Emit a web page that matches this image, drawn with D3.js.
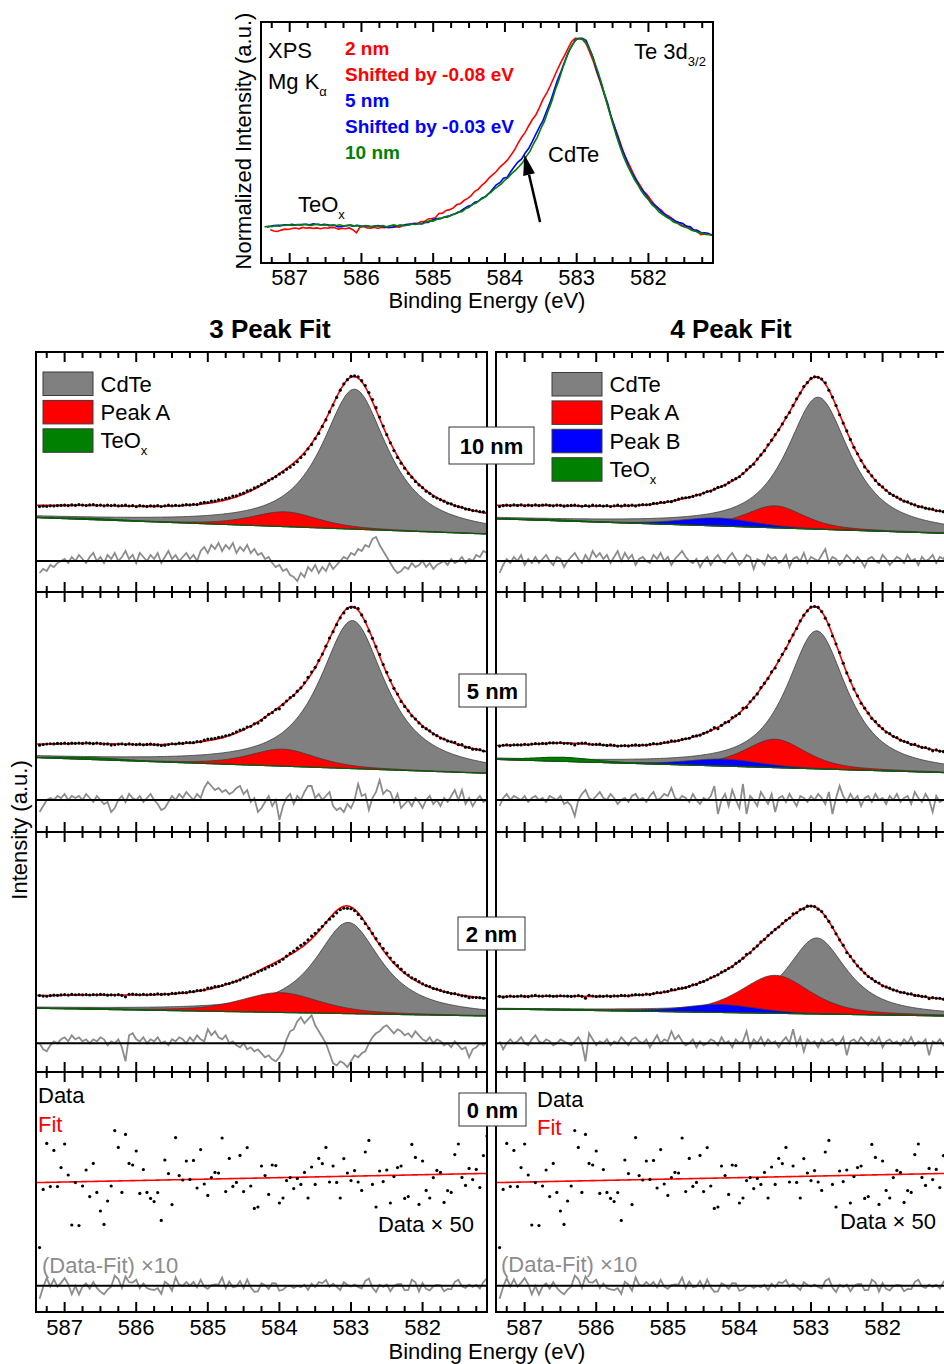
<!DOCTYPE html>
<html>
<head>
<meta charset="utf-8">
<script src="https://cdn.jsdelivr.net/npm/d3@7/dist/d3.min.js"></script>
<style>
html,body{margin:0;padding:0;background:#fff;}
svg{display:block;}
</style>
</head>
<body>
<svg id="chart" width="944" height="1364"></svg>
<script>
// ================= DATA =================
const energyStart = 587.35;          // first data point (eV)
const energyStep = 0.05;             // eV between data points
const energyDomain = [587.4, 581.1]; // binding-energy axis
const tickLabels = [587, 586, 585, 584, 583, 582];
const thicknessLabels = ["10 nm", "5 nm", "2 nm", "0 nm"];
const legend3 = ["CdTe", "Peak A", "TeOx"];
const legend4 = ["CdTe", "Peak A", "Peak B", "TeOx"];

// fit components: [centre eV, height, FWHM eV, Lorentzian fraction]; rows = 10 nm, 5 nm, 2 nm
const bg3 = [[37.2, 29.0], [37.2, 29.35], [31.85, 28.0]];
const offset3 = [5.0, 5.5, 5.5];
const cdte3 = [[582.95, 70, 1.1, 0.9], [582.98, 74, 1.1, 0.9], [583.04, 45.6, 1.1, 0.9]];
const peakA3 = [[583.92, 7.4, 1.1, 0.5], [583.95, 8.5, 1.1, 0.5], [583.99, 9.9, 1.3, 0.5]];
const teox3 = [[586.6, 0.6, 1.0, 0.3], [586.6, 0.9, 1.0, 0.3], [586.6, 0.4, 1.0, 0.3]];

const bg4 = [[36.6, 29.3], [36.3, 29.65], [31.5, 28.0]];
const offset4 = [5.8, 5.8, 5.5];
const cdte4 = [[582.9, 66, 1.05, 0.85], [582.92, 69, 1.0, 0.85], [582.92, 38, 1.0, 0.85]];
const peakA4 = [[583.5, 11, 0.95, 0.5], [583.5, 14.2, 1.0, 0.5], [583.5, 19, 1.14, 0.5]];
const peakB4 = [[584.3, 4, 1.2, 0.3], [584.22, 3.5, 1.2, 0.3], [584.27, 4, 1.2, 0.3]];
const teox4 = [[586.6, 0.5, 1.0, 0.3], [586.46, 2.0, 1.0, 0.3], [586.6, 0.4, 1.0, 0.3]];

const residualZero = [15.5, 16.0, 14.35, 13.15];

// (Data - Fit) x 10
const res3_10 = [-6,-4,-5,-2,-3,-1,0,1,-1,2,0,3,1,-1,2,4,0,2,-1,3,1,4,0,2,5,1,3,-1,4,2,0,3,1,4,-1,2,5,1,3,0,2,4,1,3,0,5,7,4,8,6,9,5,8,6,9,4,7,5,8,4,6,3,4,1,2,-1,-3,-2,-5,-4,-7,-8,-10,-6,-8,-3,-5,-2,-6,-3,-5,-1,-4,-2,0,2,1,4,3,6,5,8,7,11,12,8,5,2,-1,-4,-6,-5,-3,-4,-1,-3,-2,0,-3,-1,-4,-2,-1,0,-2,1,-1,0,2,-1,1,0,3,2,5,4];
const res4_10 = [-6,-2,1,-1,2,0,3,-2,1,-1,2,-1,1,3,0,-2,2,1,-3,0,2,4,1,-1,3,0,5,2,4,1,3,-1,2,5,0,4,1,3,-2,1,2,0,-1,3,1,4,0,2,-2,1,3,5,2,0,-1,1,-3,0,2,-2,1,3,0,-1,2,4,1,-2,0,3,2,-4,1,0,-2,3,1,2,-1,0,3,-3,1,2,0,4,-1,2,1,0,3,6,-1,2,1,-2,0,3,1,-1,2,0,-3,1,2,0,-1,3,1,-2,0,2,1,-1,3,0,1,-2,2,0,1,3,-1,2,1,4];
const res3_5 = [-6,-3,0,1,0,2,1,3,0,2,1,2,0,3,1,-1,2,0,-2,-1,-6,-4,0,2,-1,3,1,0,2,-1,1,3,0,-2,-5,-4,-1,2,0,3,1,4,2,0,3,1,6,9,7,5,6,4,5,3,4,6,7,3,5,-1,1,-6,-4,-1,2,-3,0,-10,-3,1,3,-2,2,0,4,7,7,1,3,0,2,4,-3,-5,-4,-6,-2,-4,0,8,2,3,-5,1,4,10,3,5,4,-1,3,-4,-2,0,-3,1,-1,-4,0,2,-2,0,-3,1,-1,2,5,0,5,-2,1,-3,0,2,-1,0];
const res4_5 = [-3,1,3,0,2,1,0,2,-1,1,2,0,1,-1,2,1,0,2,-2,-1,-3,-8,0,3,5,1,0,2,4,1,0,3,1,-2,0,1,-1,2,3,0,1,-1,2,4,0,1,3,2,6,1,0,2,1,-1,3,0,-2,1,0,2,7,-7,0,3,-3,5,0,-4,8,-7,2,0,-3,4,1,-2,3,-6,1,2,-1,3,0,-3,2,1,-1,2,0,3,1,-2,4,-7,1,7,2,-1,3,0,2,-3,1,2,-1,3,0,1,-2,2,0,3,-1,1,2,-2,4,1,-1,3,0,-6,2,-1,0,1];
const res3_2 = [0,-3,-4,-1,1,0,2,3,1,4,2,3,1,2,0,2,1,3,2,-1,1,0,2,-2,-9,4,5,2,1,3,0,2,1,3,0,1,-1,2,1,3,2,0,3,1,4,2,1,7,4,6,3,2,4,0,1,-1,-2,0,-3,-2,-4,-3,-5,-7,-6,-8,-9,-7,-4,2,6,7,11,13,10,12,14,9,6,3,0,-5,-10,-11,-9,-10,-12,-9,-6,-7,-5,-4,0,3,5,6,8,9,7,5,7,6,4,5,3,6,4,2,1,3,0,2,1,-1,0,-2,1,-1,-3,-2,-7,-3,-2,0,-1,1];
const res4_2 = [1,-3,0,2,0,1,3,0,-1,2,4,1,0,2,1,-1,0,2,1,0,-1,1,3,0,-9,5,2,-1,1,0,2,-1,1,0,3,1,-1,2,3,1,0,2,-2,1,4,0,2,1,6,2,4,1,-1,0,2,-2,1,-1,0,2,1,-1,3,0,1,-2,2,0,1,6,-2,2,0,3,-1,2,0,1,-2,1,3,0,7,-1,3,-4,2,0,1,-2,2,0,1,2,-1,0,3,-6,1,2,0,3,1,-1,2,0,3,-2,1,2,0,1,-1,2,0,3,-1,1,0,2,-6,1,0,2,-1,1];

// 0 nm: data x 50 and linear fit (start, end)
const data0 = [32.2,61.3,84.3,62.7,80.8,62.7,72.2,84.0,68.5,43.5,64.7,43.2,63.0,71.0,57.7,74.3,59.8,50.5,43.8,55.5,63.0,90.7,82.3,59.8,88.8,74.3,73.5,80.5,59.3,71.2,59.8,56.8,55.2,59.7,45.8,76.0,69.2,53.7,87.2,68.2,66.0,75.5,66.3,75.8,62.0,81.2,64.0,58.3,67.2,69.8,69.5,87.0,60.2,76.8,62.8,64.8,78.3,60.2,82.2,63.0,51.8,52.5,73.0,68.2,58.8,73.5,73.2,54.5,57.0,65.7,67.2,61.7,66.8,63.8,69.8,57.0,72.5,63.8,76.8,74.2,82.3,65.0,73.0,64.8,57.0,76.7,69.5,65.7,70.7,65.0,60.8,80.0,85.8,63.8,52.5,70.5,65.2,71.0,54.5,67.7,72.2,73.0,56.8,57.7,83.8,77.3,53.8,75.5,60.8,57.0,67.2,70.8,69.8,54.8,60.7,59.8,78.7,84.0,67.3,63.3,71.8,66.2,71.3,62.2,78.2,88.0];
const fit0 = [64.7, 69.3];

// inset: shift applied to each thickness (rows 10, 5, 2 nm)
const insetShift = [0, -0.03, -0.08];
const insetColors = ["#008000", "#0000ff", "#ff0000"];

// ================= RENDER =================
const FONT = '"Liberation Sans", Arial, Helvetica, sans-serif';
const svg = d3.select("#chart").style("font-family", FONT);
const energies = d3.range(data0.length).map(i => +(energyStart - i * energyStep).toFixed(3));
const fine = d3.range(0, 316).map(i => 587.4 - i * 0.02);
const res3 = [res3_10, res3_5, res3_2];
const res4 = [res4_10, res4_5, res4_2];
const COL = {gray: "#808080", red: "#ff0000", blue: "#0000ff", green: "#008000"};

function pv(E, p) {
  const t = (E - p[0]) / p[2];
  return p[1] * (p[3] / (1 + 4 * t * t) + (1 - p[3]) * Math.exp(-4 * Math.LN2 * t * t));
}
function linear(E, b) {
  return b[0] + (b[1] - b[0]) * (energyDomain[0] - E) / (energyDomain[0] - energyDomain[1]);
}
function model(nPeaks, row) {
  if (nPeaks === 3) return {bg: bg3[row], off: offset3[row], res: res3[row],
    comps: [[cdte3[row], COL.gray], [peakA3[row], COL.red], [teox3[row], COL.green]]};
  return {bg: bg4[row], off: offset4[row], res: res4[row],
    comps: [[cdte4[row], COL.gray], [peakA4[row], COL.red], [peakB4[row], COL.blue], [teox4[row], COL.green]]};
}
function fitValue(m, E) {
  return linear(E, m.bg) + d3.sum(m.comps, c => pv(E, c[0])) + m.off;
}

const quarter = [];
for (let v = 587.25; v > 581.1; v -= 0.25) quarter.push(+v.toFixed(2));

function drawTicks(g, x, yEdge, dir) {
  g.selectAll(null).data(quarter).enter().append("line")
    .attr("x1", d => x(d)).attr("x2", d => x(d))
    .attr("y1", yEdge).attr("y2", d => yEdge + dir * (Number.isInteger(d) ? 10 : 6))
    .attr("stroke", "#000").attr("stroke-width", 2);
}
function text(g, x, y, s, opt = {}) {
  return g.append("text").attr("x", x).attr("y", y).text(s)
    .attr("font-size", opt.size || 22).attr("font-weight", opt.weight || "normal")
    .attr("fill", opt.fill || "#000").attr("text-anchor", opt.anchor || "start");
}

// ---------- Inset ----------
const inset = svg.append("g");
const ix = d3.scaleLinear().domain(energyDomain).range([261, 713]);
const iy = d3.scaleLinear().domain([-0.138, 1.083]).range([263, 22]);
svg.append("clipPath").attr("id", "insetClip").append("rect")
  .attr("x", 261).attr("y", 22).attr("width", 452).attr("height", 241);
const insetLines = inset.append("g").attr("clip-path", "url(#insetClip)");
[2, 1, 0].forEach(row => {
  const m = model(3, row);
  const vals = energies.map((E, i) => fitValue(m, E) + m.res[i] / 10);
  const vR = vals[vals.length - 1], vM = d3.max(vals);
  const pts = energies.map((E, i) => [E + insetShift[row], (vals[i] - vR) / (vM - vR)]);
  insetLines.append("path").datum(pts)
    .attr("d", d3.line().x(d => ix(d[0])).y(d => iy(d[1])))
    .attr("fill", "none").attr("stroke", insetColors[row]).attr("stroke-width", 1.6);
});
inset.append("rect").attr("x", 261).attr("y", 22).attr("width", 452).attr("height", 241)
  .attr("fill", "none").attr("stroke", "#000").attr("stroke-width", 2);
drawTicks(inset, ix, 22, 1);
drawTicks(inset, ix, 263, -1);
tickLabels.forEach(t => text(inset, ix(t), 285, t, {anchor: "middle"}));
text(inset, 487, 308, "Binding Energy (eV)", {anchor: "middle"});
inset.append("text").attr("transform", "translate(251,141) rotate(-90)")
  .attr("text-anchor", "middle").attr("font-size", 22).text("Normalized Intensity (a.u.)");
text(inset, 268, 58, "XPS");
const mg = text(inset, 268, 89, "Mg K");
mg.append("tspan").attr("dy", 7).attr("font-size", 13).text("α");
text(inset, 345, 55, "2 nm", {weight: "bold", size: 19, fill: COL.red});
text(inset, 345, 81, "Shifted by -0.08 eV", {weight: "bold", size: 19, fill: COL.red});
text(inset, 345, 107, "5 nm", {weight: "bold", size: 19, fill: COL.blue});
text(inset, 345, 133, "Shifted by -0.03 eV", {weight: "bold", size: 19, fill: COL.blue});
text(inset, 345, 159, "10 nm", {weight: "bold", size: 19, fill: COL.green});
const te = text(inset, 634, 59, "Te 3d");
te.append("tspan").attr("dy", 7).attr("font-size", 13).text("3/2");
text(inset, 548, 162, "CdTe");
const teo = text(inset, 298, 212, "TeO");
teo.append("tspan").attr("dy", 7).attr("font-size", 13).text("x");
// arrow
const aTail = [583.51, 0.069], aTip = [583.73, 0.413];
const tx = ix(aTip[0]), ty = iy(aTip[1]), sx = ix(aTail[0]), sy = iy(aTail[1]);
const ang = Math.atan2(ty - sy, tx - sx), hl = 21, hw = 6;
const bx = tx - hl * Math.cos(ang), by = ty - hl * Math.sin(ang);
inset.append("line").attr("x1", sx).attr("y1", sy).attr("x2", bx).attr("y2", by)
  .attr("stroke", "#000").attr("stroke-width", 2.5);
inset.append("polygon").attr("fill", "#000").attr("points", [
  [tx, ty],
  [bx + hw * Math.sin(ang), by - hw * Math.cos(ang)],
  [bx - hw * Math.sin(ang), by + hw * Math.cos(ang)]].map(p => p.join(",")).join(" "));

// ---------- Main panels ----------
const rowTop = [352, 592, 832, 1072], rowH = 240;
const colX = [36, 496], colW = 451;

function drawPanel(col, row) {
  const x = d3.scaleLinear().domain(energyDomain).range([colX[col], colX[col] + colW]);
  const y = d3.scaleLinear().domain([0, 120]).range([rowTop[row] + rowH, rowTop[row]]);
  const id = `clip${col}${row}`;
  svg.append("clipPath").attr("id", id).append("rect")
    .attr("x", colX[col]).attr("y", rowTop[row]).attr("width", colW).attr("height", rowH);
  const g = svg.append("g");
  const c = g.append("g").attr("clip-path", `url(#${id})`);
  let fitFn, dots, resid;
  if (row < 3) {
    const m = model(col === 0 ? 3 : 4, row);
    m.comps.forEach(([p, color]) => {
      c.append("path").datum(fine)
        .attr("d", d3.area().x(E => x(E)).y0(E => y(linear(E, m.bg))).y1(E => y(linear(E, m.bg) + pv(E, p))))
        .attr("fill", color)
        .attr("stroke", color === COL.green ? "#0a5a0a" : "#3a3a3a")
        .attr("stroke-width", color === COL.green ? 1.2 : 0.8);
    });
    fitFn = E => fitValue(m, E);
    dots = energies.map((E, i) => [E, fitFn(E) + m.res[i] / 10]);
    resid = energies.map((E, i) => [E, residualZero[row] + m.res[i]]);
  } else {
    fitFn = E => linear(E, fit0);
    dots = energies.map((E, i) => [E, data0[i]]);
    resid = energies.map((E, i) => [E, residualZero[row] + (data0[i] - fitFn(E)) / 5]);
  }
  c.append("path").datum(fine)
    .attr("d", d3.line().x(E => x(E)).y(E => y(fitFn(E))))
    .attr("fill", "none").attr("stroke", COL.red).attr("stroke-width", 1.6);
  c.selectAll(null).data(dots).enter().append("circle")
    .attr("cx", d => x(d[0])).attr("cy", d => y(d[1])).attr("r", 1.6).attr("fill", "#000");
  c.append("path").datum(resid)
    .attr("d", d3.line().x(d => x(d[0])).y(d => y(d[1])))
    .attr("fill", "none").attr("stroke", "#8c8c8c").attr("stroke-width", 1.8);
  c.append("line").attr("x1", colX[col]).attr("x2", colX[col] + colW)
    .attr("y1", y(residualZero[row])).attr("y2", y(residualZero[row]))
    .attr("stroke", "#000").attr("stroke-width", 2);
  g.append("rect").attr("x", colX[col]).attr("y", rowTop[row]).attr("width", colW).attr("height", rowH)
    .attr("fill", "none").attr("stroke", "#000").attr("stroke-width", 2);
  drawTicks(g, x, rowTop[row], 1);
  drawTicks(g, x, rowTop[row] + rowH, -1);
  if (row === 3) tickLabels.forEach(t => text(g, x(t), 1335, t, {anchor: "middle"}));
}
[0, 1, 2, 3].forEach(r => { drawPanel(0, r); drawPanel(1, r); });

// legends
function legend(x0, y0, names, colors) {
  const g = svg.append("g");
  names.forEach((n, i) => {
    const yy = y0 + i * 28.4;
    g.append("rect").attr("x", x0).attr("y", yy).attr("width", 50).attr("height", 23.5)
      .attr("fill", colors[i]).attr("stroke", "#3a3a3a").attr("stroke-width", 1);
    if (n === "TeOx") {
      const t = text(g, x0 + 57.5, yy + 19.5, "TeO");
      t.append("tspan").attr("dy", 7).attr("font-size", 13).text("x");
    } else text(g, x0 + 57.5, yy + 19.5, n);
  });
}
legend(43, 372, legend3, [COL.gray, COL.red, COL.green]);
legend(552, 372.5, legend4, [COL.gray, COL.red, COL.blue, COL.green]);

// thickness boxes
const boxes = [[449, 427, 85, 37], [459, 674, 67, 33], [458, 917, 67, 33], [459, 1093, 67, 33]];
thicknessLabels.forEach((l, i) => {
  const [bx0, by0, bw, bh] = boxes[i];
  svg.append("rect").attr("x", bx0).attr("y", by0).attr("width", bw).attr("height", bh)
    .attr("fill", "#fff").attr("stroke", "#333").attr("stroke-width", 1);
  text(svg, bx0 + bw / 2, by0 + bh / 2 + 8, l, {anchor: "middle", weight: "bold"});
});

// titles & labels
text(svg, 270, 338, "3 Peak Fit", {anchor: "middle", weight: "bold", size: 26});
text(svg, 731, 338, "4 Peak Fit", {anchor: "middle", weight: "bold", size: 26});
svg.append("text").attr("transform", "translate(27,830) rotate(-90)")
  .attr("text-anchor", "middle").attr("font-size", 22).text("Intensity (a.u.)");
text(svg, 487, 1359, "Binding Energy (eV)", {anchor: "middle"});

// 0 nm annotations
text(svg, 38, 1103, "Data");
text(svg, 38, 1132, "Fit", {fill: COL.red});
text(svg, 474, 1232, "Data × 50", {anchor: "end"});
text(svg, 42, 1273, "(Data-Fit) ×10", {fill: "#8c8c8c"});
text(svg, 537, 1107, "Data");
text(svg, 537, 1135, "Fit", {fill: COL.red});
text(svg, 936, 1229, "Data × 50", {anchor: "end"});
text(svg, 501, 1272, "(Data-Fit) ×10", {fill: "#8c8c8c"});
</script>
</body>
</html>
